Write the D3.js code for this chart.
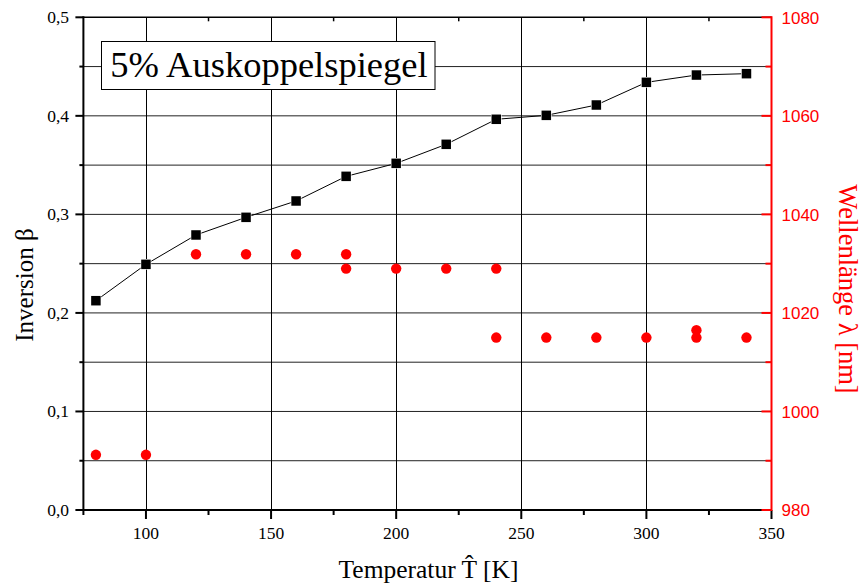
<!DOCTYPE html>
<html>
<head>
<meta charset="utf-8">
<script src="https://cdn.jsdelivr.net/npm/d3@7"></script>
<style>
  html, body { margin: 0; padding: 0; background: #fff; }
  svg { display: block; }
  .serif { font-family: "Liberation Serif", "Times New Roman", Times, serif; }
  .sans { font-family: "Liberation Sans", Arial, Helvetica, sans-serif; }
</style>
</head>
<body>
<svg id="chart" width="864" height="587"></svg>
<script>
// Temperature series (K) with the measured inversion β
const temperatures = [80, 100, 120, 140, 160, 180, 200, 220, 240, 260, 280, 300, 320, 340];
const inversion = [0.2124, 0.2493, 0.2791, 0.2970, 0.3136, 0.3386, 0.3518, 0.3711, 0.3965, 0.4005, 0.4110, 0.4340, 0.4414, 0.4428];

// Laser wavelengths (nm); some temperatures show two lines
const wlTemps  = [80, 100, 120, 140, 160, 180, 180, 200, 220, 240, 240, 260, 280, 300, 320, 320, 340];
const wlValues = [991.2, 991.2, 1031.9, 1031.9, 1031.9, 1031.9, 1029.0, 1029.0, 1029.0, 1029.0, 1015.0, 1015.0, 1015.0, 1015.0, 1016.5, 1015.0, 1015.0];

// Axis ticks
const xMajor = [100, 150, 200, 250, 300, 350];
const xMinor = [75, 125, 175, 225, 275, 325];
const xGrid = [100, 150, 200, 250, 300];
const yMajor = [0, 0.1, 0.2, 0.3, 0.4, 0.5];
const yMinor = [0.05, 0.15, 0.25, 0.35, 0.45];
const rMajor = [980, 1000, 1020, 1040, 1060, 1080];
const rMinor = [990, 1010, 1030, 1050, 1070];

const titleText = "5% Auskoppelspiegel";
const xLabel = "Temperatur T\u0302 [K]";
const yLabel = "Inversion \u03B2";
const rLabel = "Wellenl\u00E4nge \u03BB [nm]";

const red = "#ff0000";

const L = 83.4, R = 771.5, T = 17.3, B = 510;

const x = d3.scaleLinear().domain([75, 350]).range([L, R]);
const y = d3.scaleLinear().domain([0, 0.5]).range([B, T]);
const yR = d3.scaleLinear().domain([980, 1080]).range([B, T]);

const svg = d3.select("#chart");
const comma = v => d3.format(".1f")(v).replace(".", ",");

// Grid
const grid = svg.append("g");
grid.selectAll("line.h").data(yMajor.concat(yMinor).filter(v => v > 0 && v < 0.5)).join("line")
  .attr("x1", L).attr("x2", R).attr("y1", d => y(d)).attr("y2", d => y(d))
  .attr("stroke", "#222").attr("stroke-width", 1);
grid.selectAll("line.v").data(xGrid).join("line")
  .attr("x1", d => Math.round(x(d)) + 0.5).attr("x2", d => Math.round(x(d)) + 0.5)
  .attr("y1", T).attr("y2", B)
  .attr("stroke", "#000").attr("stroke-width", 1);

// Top axis with inward ticks
svg.append("line").attr("x1", L).attr("x2", R).attr("y1", T).attr("y2", T)
  .attr("stroke", "#000").attr("stroke-width", 1.5);
svg.append("g").selectAll("line").data(xMinor.filter(v => v > 75)).join("line")
  .attr("x1", d => x(d)).attr("x2", d => x(d)).attr("y1", T).attr("y2", T + 4)
  .attr("stroke", "#000").attr("stroke-width", 1.5);

// Bottom axis
const bottom = svg.append("g");
bottom.selectAll("line.maj").data(xMajor).join("line")
  .attr("x1", d => x(d)).attr("x2", d => x(d)).attr("y1", B).attr("y2", B + 9)
  .attr("stroke", "#000").attr("stroke-width", 2);
bottom.selectAll("line.min").data(xMinor).join("line").attr("class", "min")
  .attr("x1", d => x(d)).attr("x2", d => x(d)).attr("y1", B).attr("y2", B + 5)
  .attr("stroke", "#000").attr("stroke-width", 2);
bottom.selectAll("text").data(xMajor).join("text").attr("class", "serif")
  .attr("x", d => x(d)).attr("y", 538.5).attr("text-anchor", "middle")
  .attr("font-size", 17.5).attr("fill", "#000")
  .text(d => d);
svg.append("line").attr("x1", L - 1).attr("x2", R).attr("y1", B).attr("y2", B)
  .attr("stroke", "#000").attr("stroke-width", 2);

// Left axis
const left = svg.append("g");
left.selectAll("line.maj").data(yMajor).join("line")
  .attr("x1", L - 8).attr("x2", L).attr("y1", d => y(d)).attr("y2", d => y(d))
  .attr("stroke", "#000").attr("stroke-width", 2);
left.selectAll("line.min").data(yMinor).join("line").attr("class", "min")
  .attr("x1", L - 4).attr("x2", L).attr("y1", d => y(d)).attr("y2", d => y(d))
  .attr("stroke", "#000").attr("stroke-width", 2);
left.selectAll("text").data(yMajor).join("text").attr("class", "serif")
  .attr("x", 69).attr("y", d => y(d) + 6).attr("text-anchor", "end")
  .attr("font-size", 17.5).attr("fill", "#000")
  .text(d => comma(d));
svg.append("line").attr("x1", L).attr("x2", L).attr("y1", T - 1).attr("y2", B + 1)
  .attr("stroke", "#000").attr("stroke-width", 2);

// Right axis (red), ticks pointing inward
const right = svg.append("g");
right.selectAll("line.maj").data(rMajor).join("line")
  .attr("x1", R - 10).attr("x2", R).attr("y1", d => yR(d)).attr("y2", d => yR(d))
  .attr("stroke", red).attr("stroke-width", 2);
right.selectAll("line.min").data(rMinor).join("line").attr("class", "min")
  .attr("x1", R - 6).attr("x2", R).attr("y1", d => yR(d)).attr("y2", d => yR(d))
  .attr("stroke", red).attr("stroke-width", 2);
right.selectAll("text").data(rMajor).join("text").attr("class", "sans")
  .attr("x", 781.5).attr("y", d => yR(d) + 6.3).attr("text-anchor", "start")
  .attr("font-size", 17).attr("fill", red)
  .text(d => d);
svg.append("line").attr("x1", R).attr("x2", R).attr("y1", T - 1).attr("y2", B + 1)
  .attr("stroke", red).attr("stroke-width", 2);

// Axis titles
svg.append("text").attr("class", "serif").attr("transform", "translate(33,285) rotate(-90)")
  .attr("text-anchor", "middle").attr("font-size", 25)
  .attr("fill", "#000").text(yLabel);
svg.append("text").attr("class", "serif").attr("x", 428.5).attr("y", 578).attr("text-anchor", "middle")
  .attr("font-size", 25.5).attr("fill", "#000").text(xLabel);
svg.append("text").attr("class", "serif").attr("transform", "translate(838.5,289) rotate(90)")
  .attr("text-anchor", "middle").attr("font-size", 26.5)
  .attr("fill", red).text(rLabel);

// Inversion line and square markers
const pts = temperatures.map((t, i) => [t, inversion[i]]);
svg.append("path").datum(pts)
  .attr("d", d3.line().x(d => x(d[0])).y(d => y(d[1])))
  .attr("fill", "none").attr("stroke", "#000").attr("stroke-width", 1);
const sq = 9.5;
svg.append("g").selectAll("rect").data(pts).join("rect")
  .attr("x", d => x(d[0]) - sq / 2).attr("y", d => y(d[1]) - sq / 2)
  .attr("width", sq).attr("height", sq)
  .attr("fill", "#000").attr("stroke", "#fff").attr("stroke-width", 1.2)
  .attr("paint-order", "stroke");

// Wavelength dots
svg.append("g").selectAll("circle").data(wlTemps.map((t, i) => [t, wlValues[i]])).join("circle")
  .attr("cx", d => x(d[0])).attr("cy", d => yR(d[1])).attr("r", 5.2)
  .attr("fill", red);

// Title box
const box = svg.append("g");
box.append("rect").attr("x", 101.5).attr("y", 41.5).attr("width", 333.5).attr("height", 48)
  .attr("fill", "#fff").attr("stroke", "#000").attr("stroke-width", 1);
box.append("text").attr("class", "serif").attr("x", 269).attr("y", 76.7).attr("text-anchor", "middle")
  .attr("font-size", 36.5).attr("fill", "#000").text(titleText);
</script>
</body>
</html>
